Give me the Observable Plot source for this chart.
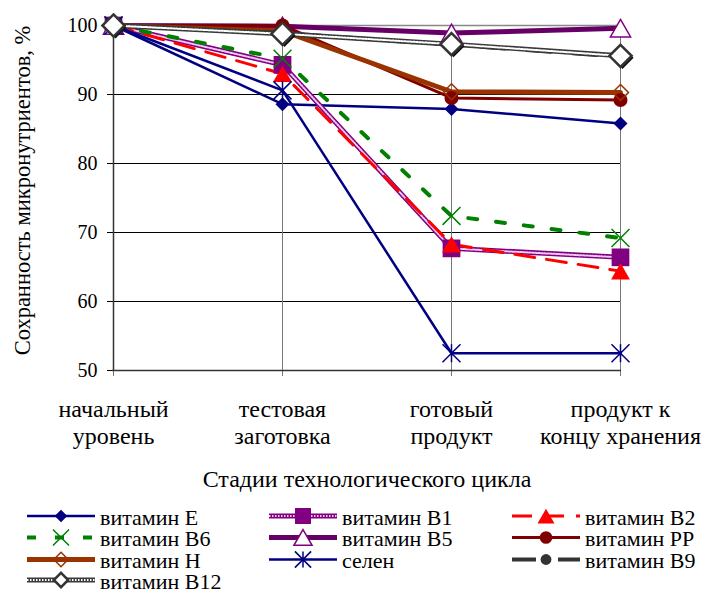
<!DOCTYPE html>
<html>
<head>
<meta charset="utf-8">
<script src="https://cdn.jsdelivr.net/npm/d3@7"></script>
<script src="https://cdn.jsdelivr.net/npm/@observablehq/plot@0.6"></script>
<style>
  body { margin: 0; background: #fff; }
  #chart { width: 705px; }
  #chart svg { display: block; }
</style>
</head>
<body>
<div id="chart"></div>
<script>
// Stages of the technological cycle (x categories)
const stages = ["начальный\nуровень", "тестовая\nзаготовка", "готовый\nпродукт", "продукт к\nконцу хранения"];
const yTicks = [50, 60, 70, 80, 90, 100];

// Retention of micronutrients, % of the initial level
const vitaminE   = [100, 88.6, 87.9, 85.8];
const vitaminB1  = [100, 94.3, 67.7, 66.4];
const vitaminB2  = [100, 93.0, 68.3, 64.4];
const vitaminB6  = [100, 95.2, 72.4, 69.2];
const vitaminB5  = [100, 99.9, 98.9, 99.6];
const vitaminPP  = [100, 100, 89.5, 89.2];
const vitaminH   = [100, 99.2, 90.4, 90.3];
const selenium   = [100, 90.6, 52.5, 52.5];
const vitaminB9  = [100, 98.9, 97.2, 95.5];
const vitaminB12 = [100, 98.8, 97.3, 95.6];

const seriesNames = ["витамин E", "витамин B1", "витамин B2", "витамин B6", "витамин B5",
                     "витамин PP", "витамин H", "селен", "витамин B9", "витамин B12"];
const seriesValues = [vitaminE, vitaminB1, vitaminB2, vitaminB6, vitaminB5,
                      vitaminPP, vitaminH, selenium, vitaminB9, vitaminB12];

const FONT = "Liberation Serif";

// Excel-like star marker: an X crossed by a vertical stroke
const star = {
  draw(ctx, size) {
    const r = Math.sqrt(size / Math.PI);
    ctx.moveTo(-r, -r); ctx.lineTo(r, r);
    ctx.moveTo(-r, r);  ctx.lineTo(r, -r);
    ctx.moveTo(0, -r);  ctx.lineTo(0, r);
  }
};

// Line and marker styling per series
const styles = [
  {stroke: "#000080", width: 2.5, symbol: "diamond2", r: 6.3, fill: "#000080", mstroke: "none"},
  {stroke: "#800080", width: 5, over: "#f0c8f0", symbol: "square", r: 10, fill: "#800080", mstroke: "none"},
  {stroke: "#ff0000", width: 3, dash: "20,12", symbol: "triangle", r: 7, fill: "#ff0000", mstroke: "none", dy: 2.8},
  {stroke: "#008000", width: 4, dash: "9,19", symbol: "times", r: 8.2, fill: "none", mstroke: "#008000", mwidth: 1.5},
  {stroke: "#660066", width: 5, symbol: "triangle", r: 7.5, fill: "white", mstroke: "#800080", mwidth: 1.5, dy: 2.8},
  {stroke: "#800000", width: 3, symbol: "circle", r: 7, fill: "#800000", mstroke: "none"},
  {stroke: "#993300", width: 5, symbol: "diamond2", r: 7.2, fill: "none", mstroke: "#993300", mwidth: 1.5},
  {stroke: "#000080", width: 2.5, symbol: star, r: 9, fill: "none", mstroke: "#000080", mwidth: 1.5},
  {stroke: "#333333", width: 4, dash: "24,22", symbol: "circle", r: 6, fill: "#333333", mstroke: "none"},
  {stroke: "#3a3a3a", width: 5, over: "#ffffff", symbol: "diamond2", r: 10, fill: "white", mstroke: "#333333", mwidth: 2.5, shadow: true}
];

const rows = seriesNames.map((name, i) =>
  seriesValues[i].map((v, j) => ({series: name, stage: stages[j], value: v})));

const lineMarks = rows.flatMap((data, i) => {
  const s = styles[i];
  const marks = [Plot.line(data, {x: "stage", y: "value", stroke: s.stroke, strokeWidth: s.width,
    strokeDasharray: s.dash, strokeLinejoin: "round"})];
  if (s.over) marks.push(Plot.line(data, {x: "stage", y: "value", stroke: s.over, strokeWidth: 2,
    strokeDasharray: "1.5,1.5"}));
  return marks;
});

const dotMarks = rows.flatMap((data, i) => {
  const s = styles[i];
  const marks = [];
  if (s.shadow) marks.push(Plot.dot(data, {x: "stage", y: "value", symbol: s.symbol, r: s.r,
    fill: "#111", dx: 2, dy: 2}));
  marks.push(Plot.dot(data, {x: "stage", y: "value", symbol: s.symbol, r: s.r, fill: s.fill,
    stroke: s.mstroke, strokeWidth: s.mwidth || 1, dy: s.dy || 0}));
  return marks;
});

const chart = Plot.plot({
  width: 705,
  height: 500,
  marginLeft: 112,
  marginRight: 84,
  marginTop: 25,
  marginBottom: 130,
  style: {fontFamily: FONT, fontSize: "20px", color: "#000", background: "#fff"},
  x: {type: "point", domain: stages, padding: 0},
  y: {domain: [50, 100]},
  marks: [
    Plot.ruleY([60, 70, 80, 90], {stroke: "#000", strokeWidth: 1}),
    Plot.ruleY([100], {stroke: "#888", strokeWidth: 1.5}),
    Plot.ruleX(stages.slice(1), {y1: 50, y2: 100, stroke: "#777", strokeWidth: 1}),
    Plot.axisX({tickSize: 6, stroke: "#777", tickPadding: 22, fontSize: 24, lineHeight: 1.11,
      fontFamily: FONT, label: null}),
    Plot.axisY({ticks: yTicks, tickSize: 5, tickPadding: 10, fontSize: 20, fontFamily: FONT, label: null}),
    Plot.ruleY([50], {stroke: "#333", strokeWidth: 1.5}),
    Plot.ruleX([stages[0]], {y1: 50, y2: 100, stroke: "#333", strokeWidth: 1.5}),
    Plot.text(["Сохранность микронутриентов, %"], {frameAnchor: "left", textAnchor: "middle",
      dx: -90, dy: -7.5, rotate: -90, fontSize: 22.5, fontFamily: FONT}),
    Plot.text(["Стадии технологического цикла"], {frameAnchor: "bottom", dy: 116, fontSize: 24,
      fontFamily: FONT}),
    ...lineMarks,
    ...dotMarks
  ]
});

document.getElementById("chart").appendChild(chart);

// Legend: three columns, filled row by row
const legend = d3.create("svg").attr("width", 705).attr("height", 92)
  .attr("font-family", FONT).attr("font-size", 22);
const colX = [27, 269, 512];
const rowY = [16, 37.5, 59.5, 80];
const d3Symbols = {diamond2: d3.symbolDiamond2, square: d3.symbolSquare, triangle: d3.symbolTriangle,
                   times: d3.symbolTimes, circle: d3.symbolCircle};
seriesNames.forEach((name, i) => {
  const s = styles[i];
  const x0 = colX[i % 3], y0 = rowY[Math.floor(i / 3)];
  const g = legend.append("g").attr("transform", `translate(${x0},${y0})`);
  g.append("line").attr("x1", 0).attr("x2", 68).attr("y1", 0).attr("y2", 0)
    .attr("stroke", s.stroke).attr("stroke-width", s.width)
    .attr("stroke-dasharray", s.dash || null);
  if (s.over) g.append("line").attr("x1", 0).attr("x2", 68).attr("y1", 0).attr("y2", 0)
    .attr("stroke", s.over).attr("stroke-width", 2).attr("stroke-dasharray", "1.5,1.5");
  const type = typeof s.symbol === "string" ? d3Symbols[s.symbol] : s.symbol;
  const rr = s.shadow ? 6.5 : s.r * 0.9;
  const path = d3.symbol(type, Math.PI * rr * rr)();
  g.append("path").attr("d", path).attr("transform", `translate(34,${(s.dy || 0) * 0.9})`)
    .attr("fill", s.fill).attr("stroke", s.mstroke).attr("stroke-width", s.mwidth || 1);
  g.append("text").attr("x", 73).attr("y", 8.5).text(name);
});
document.getElementById("chart").appendChild(legend.node());
</script>
</body>
</html>
